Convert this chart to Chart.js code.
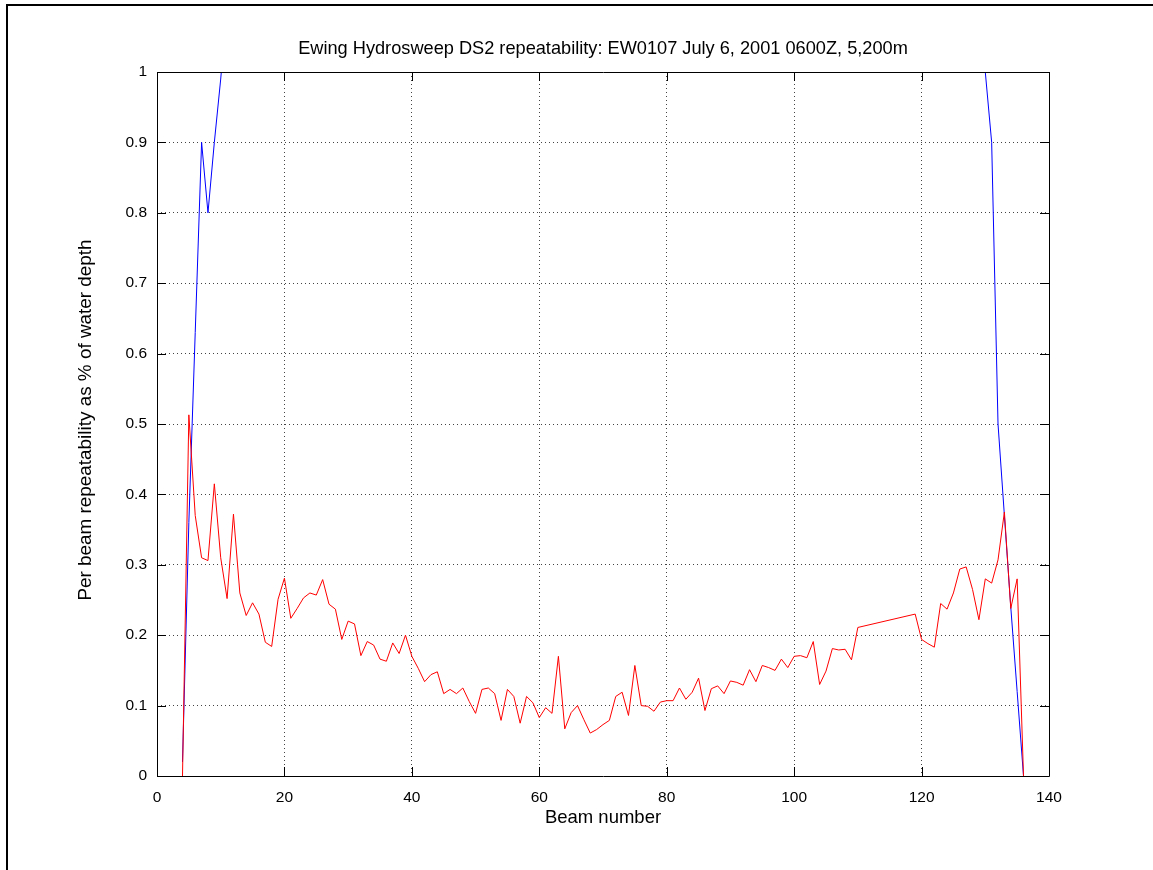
<!DOCTYPE html>
<html>
<head>
<meta charset="utf-8">
<script src="https://cdn.jsdelivr.net/npm/chart.js@4.4.1/dist/chart.umd.min.js"></script>
<style>
html,body{margin:0;padding:0;background:#fff;}
#wrap{width:1153px;height:870px;position:relative;}
</style>
</head>
<body>
<div id="wrap"><canvas id="c" width="1153" height="870"></canvas></div>
<script>
const titleText = "Ewing Hydrosweep DS2 repeatability: EW0107 July 6, 2001 0600Z, 5,200m";
const xLabel = "Beam number";
const yLabel = "Per beam repeatability as % of water depth";
const xTicks = [0, 20, 40, 60, 80, 100, 120, 140];
const yTicks = [0, 0.1, 0.2, 0.3, 0.4, 0.5, 0.6, 0.7, 0.8, 0.9, 1];

const redBeams = [4,5,6,7,8,9,10,11,12,13,14,15,16,17,18,19,20,21,22,23,24,25,26,27,28,29,30,31,32,33,34,35,36,37,38,39,
  40,41,42,43,44,45,46,47,48,49,50,51,52,53,54,55,56,57,58,59,60,61,62,63,64,65,66,67,68,69,70,71,72,73,74,75,76,77,78,79,
  80,81,82,83,84,85,86,87,88,89,90,91,92,93,94,95,96,97,98,99,100,101,102,103,104,105,106,107,108,109,110,
  119,120,121,122,123,124,125,126,127,128,129,130,131,132,133,134,135,136];
const redValues = [0.0,0.513,0.37,0.31,0.306,0.415,0.31,0.252,0.372,0.26,0.228,0.246,0.23,0.19,0.184,0.251,0.281,0.224,0.238,0.253,0.26,0.257,0.279,0.244,0.237,0.194,0.22,0.216,0.171,0.191,0.186,0.166,0.163,0.189,0.174,0.2,
  0.17,0.153,0.134,0.144,0.148,0.117,0.123,0.117,0.125,0.106,0.089,0.123,0.125,0.117,0.079,0.123,0.113,0.075,0.113,0.104,0.083,0.097,0.089,0.17,0.067,0.09,0.1,0.08,0.061,0.066,0.073,0.079,0.113,0.119,0.086,0.157,0.1,0.099,0.092,0.105,
  0.107,0.107,0.125,0.109,0.119,0.139,0.093,0.124,0.128,0.117,0.135,0.133,0.129,0.151,0.134,0.157,0.154,0.15,0.166,0.154,0.17,0.171,0.168,0.191,0.13,0.149,0.181,0.179,0.18,0.165,0.211,
  0.23,0.194,0.188,0.183,0.245,0.237,0.26,0.294,0.297,0.265,0.222,0.28,0.274,0.307,0.375,0.238,0.28,0.0];

const blueBeams = [4,5,6,7,8,9,10,11,129,130,131,132,133,134,135,136];
const blueValues = [0.02,0.36,0.63,0.9,0.8,0.9,0.99,1.1,1.1,1.0,0.9,0.5,0.37,0.24,0.12,0.0];

const toXY = (xs, ys) => xs.map((x, i) => ({x: x, y: ys[i]}));

const FONT = '"Liberation Sans", Arial, Helvetica, sans-serif';

const framePlugin = {
  id: 'frame',
  beforeDraw(chart) {
    const ctx = chart.ctx;
    ctx.save();
    ctx.fillStyle = '#ffffff';
    ctx.fillRect(0, 0, chart.width, chart.height);
    ctx.fillStyle = '#000000';
    ctx.fillRect(6, 4, chart.width - 6, 2);
    ctx.fillRect(6, 4, 2, chart.height - 4);
    ctx.restore();
  },
  afterDraw(chart) {
    const ctx = chart.ctx;
    const a = chart.chartArea;
    const xs = chart.scales.x, ys = chart.scales.y;
    ctx.save();
    ctx.strokeStyle = '#000000';
    ctx.lineWidth = 1;
    ctx.beginPath();
    ctx.rect(Math.round(a.left) + 0.5, Math.round(a.top) + 0.5, Math.round(a.right - a.left), Math.round(a.bottom - a.top));
    ctx.stroke();
    const tl = 9;
    ctx.beginPath();
    xTicks.forEach(v => {
      const px = Math.round(xs.getPixelForValue(v)) + 0.5;
      ctx.moveTo(px, a.bottom); ctx.lineTo(px, a.bottom - tl);
      ctx.moveTo(px, a.top); ctx.lineTo(px, a.top + tl);
    });
    yTicks.forEach(v => {
      const py = Math.round(ys.getPixelForValue(v)) + 0.5;
      ctx.moveTo(a.left, py); ctx.lineTo(a.left + tl, py);
      ctx.moveTo(a.right, py); ctx.lineTo(a.right - tl, py);
    });
    ctx.stroke();
    ctx.fillStyle = '#000000';
    ctx.textAlign = 'center';
    ctx.textBaseline = 'middle';
    const cx = (a.left + a.right) / 2;
    ctx.font = '18.2px ' + FONT;
    ctx.fillText(titleText, cx, 49);
    ctx.font = '18.5px ' + FONT;
    ctx.fillText(xLabel, cx, 818);
    ctx.font = '18.9px ' + FONT;
    ctx.translate(86, (a.top + a.bottom) / 2 - 4);
    ctx.rotate(-Math.PI / 2);
    ctx.fillText(yLabel, 0, 0);
    ctx.restore();
  }
};

new Chart(document.getElementById('c'), {
  type: 'scatter',
  data: {
    datasets: [
      {label: 'red', data: toXY(redBeams, redValues), showLine: true, borderColor: '#ff0000', backgroundColor: '#ff0000', borderWidth: 1, pointRadius: 0, tension: 0},
      {label: 'blue', data: toXY(blueBeams, blueValues), showLine: true, borderColor: '#0000ff', backgroundColor: '#0000ff', borderWidth: 1, pointRadius: 0, tension: 0}
    ]
  },
  options: {
    responsive: false,
    animation: false,
    devicePixelRatio: 1,
    layout: {padding: {top: 72, right: 104, left: 0, bottom: 0}},
    plugins: {legend: {display: false}, tooltip: {enabled: false}, title: {display: false}},
    scales: {
      x: {
        type: 'linear', min: 0, max: 140,
        afterFit(s) { s.height = 94; },
        afterBuildTicks(s) { s.ticks = xTicks.map(v => ({value: v})); },
        ticks: {color: '#000', font: {family: FONT, size: 15.5}, padding: 12, maxRotation: 0, autoSkip: false, callback: v => String(v)},
        grid: {color: '#444', lineWidth: 1, drawTicks: false},
        border: {display: false, dash: [1, 3]}
      },
      y: {
        type: 'linear', min: 0, max: 1,
        afterFit(s) { s.width = 157; },
        afterBuildTicks(s) { s.ticks = yTicks.map(v => ({value: v})); },
        ticks: {color: '#000', font: {family: FONT, size: 15.5}, padding: 10, autoSkip: false, callback: v => String(Math.round(v * 10) / 10)},
        grid: {color: '#444', lineWidth: 1, drawTicks: false},
        border: {display: false, dash: [1, 3]}
      }
    }
  },
  plugins: [framePlugin]
});
</script>
</body>
</html>
